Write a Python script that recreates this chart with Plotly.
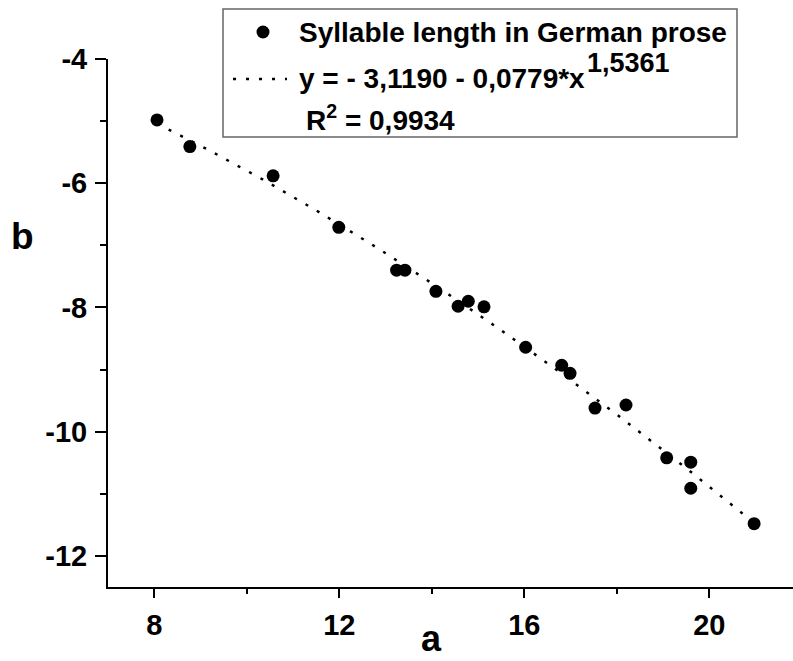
import numpy as np
import plotly.graph_objects as go

# ---- data ----
a_values = [8.06, 8.77, 10.57, 11.99, 13.24, 13.42, 14.09, 14.57, 14.79, 15.13,
            16.03, 16.81, 16.99, 17.53, 18.20, 19.08, 19.60, 19.60, 20.97]
b_values = [-4.98, -5.41, -5.88, -6.71, -7.40, -7.40, -7.74, -7.98, -7.90, -7.99,
            -8.64, -8.93, -9.06, -9.62, -9.57, -10.42, -10.49, -10.91, -11.48]

fit_c0 = -3.1190
fit_c1 = 0.0779
fit_p = 1.5361

series_label = "Syllable length in German prose"
fit_label_main = "y = - 3,1190 - 0,0779*x"
fit_label_sup = "1,5361"
r2_label = "R<sup>2</sup> = 0,9934"

x_tickvals = [8, 12, 16, 20]
x_ticktext = ["8", "12", "16", "20"]
y_tickvals = [-4, -6, -8, -10, -12]
y_ticktext = ["-4", "-6", "-8", "-10", "-12"]

# ---- fit curve from the stated equation ----
fit_x = np.linspace(min(a_values), max(a_values), 200)
fit_y = fit_c0 - fit_c1 * fit_x ** fit_p

W, H = 793, 661
ML, MR, MT, MB = 108, 0, 59, 74
PW, PH = W - ML - MR, H - MT - MB


def px(x):
    return (x - ML) / PW


def py(y):
    return (H - MB - y) / PH


FONT = "Arial, Liberation Sans, sans-serif"

fig = go.Figure()
fig.add_trace(go.Scatter(
    x=fit_x, y=fit_y, mode="lines",
    line=dict(color="black", width=2.5, dash="3px,10px"),
    showlegend=False, hoverinfo="skip"))
fig.add_trace(go.Scatter(
    x=a_values, y=b_values, mode="markers",
    marker=dict(color="black", size=13, line=dict(width=0)),
    showlegend=False, name=series_label))

axis_common = dict(
    showgrid=False, zeroline=False, showline=True, linecolor="black",
    linewidth=2, ticks="outside", tickcolor="black", tickwidth=2,
    tickfont=dict(family=FONT, size=29, color="black", weight="bold"),
)

fig.update_xaxes(range=[7, 7 + PW / 46.25], tickvals=x_tickvals,
                 ticktext=x_ticktext, ticklen=9, ticklabelstandoff=2,
                 minor=dict(ticks="outside", dtick=2, tick0=0, ticklen=5,
                            tickwidth=2, tickcolor="black"),
                 **axis_common)
fig.update_yaxes(range=[-12.5, -4], tickvals=y_tickvals,
                 ticktext=y_ticktext, ticklen=11, ticklabelstandoff=2,
                 minor=dict(ticks="outside", dtick=1, tick0=0, ticklen=6,
                            tickwidth=2, tickcolor="black"),
                 **axis_common)

shapes = [
    # legend box
    dict(type="rect", xref="paper", yref="paper",
         x0=px(223), x1=px(737), y0=py(137), y1=py(9),
         line=dict(color="#666666", width=1.5), fillcolor="white", layer="above"),
    # legend marker
    dict(type="circle", xref="paper", yref="paper",
         x0=px(263 - 6.5), x1=px(263 + 6.5), y0=py(32 + 6.5), y1=py(32 - 6.5),
         fillcolor="black", line=dict(width=0), layer="above"),
    # legend dotted line sample
    dict(type="line", xref="paper", yref="paper",
         x0=px(233), x1=px(287), y0=py(79), y1=py(79),
         line=dict(color="black", width=2.5, dash="3px,10px"), layer="above"),
]

lf = dict(family=FONT, size=28, color="black", weight="bold")
annotations = [
    dict(text=series_label, x=px(297), y=py(32), xref="paper", yref="paper",
         xanchor="left", yanchor="middle", showarrow=False, font=lf),
    dict(text=fit_label_main, x=px(297), y=py(78), xref="paper", yref="paper",
         xanchor="left", yanchor="middle", showarrow=False, font=lf),
    dict(text=fit_label_sup, x=px(585), y=py(63), xref="paper", yref="paper",
         xanchor="left", yanchor="middle", showarrow=False,
         font=dict(family=FONT, size=27, color="black", weight="bold")),
    dict(text=r2_label, x=px(304), y=py(118), xref="paper", yref="paper",
         xanchor="left", yanchor="middle", showarrow=False, font=lf),
    # axis titles
    dict(text="b", x=px(22), y=py(236), xref="paper", yref="paper",
         xanchor="center", yanchor="middle", showarrow=False,
         font=dict(family=FONT, size=37, color="black", weight="bold")),
    dict(text="a", x=px(431), y=py(660), xref="paper", yref="paper",
         xanchor="center", yanchor="bottom", showarrow=False, borderpad=0,
         font=dict(family=FONT, size=36, color="black", weight="bold")),
]

fig.update_layout(
    width=W, height=H,
    margin=dict(l=ML, r=MR, t=MT, b=MB),
    paper_bgcolor="white", plot_bgcolor="white",
    shapes=shapes, annotations=annotations,
    showlegend=False,
)

fig.write_html("out.html")
